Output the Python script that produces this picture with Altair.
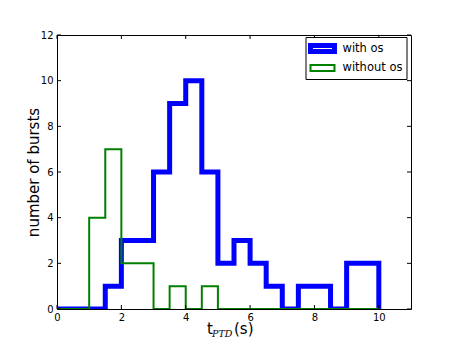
import altair as alt
import pandas as pd

# ---- data ----
bin_edges = [0.0, 0.5, 1.0, 1.5, 2.0, 2.5, 3.0, 3.5, 4.0, 4.5,
             5.0, 5.5, 6.0, 6.5, 7.0, 7.5, 8.0, 8.5, 9.0, 9.5, 10.0]
with_os = [0, 0, 0, 1, 3, 3, 6, 9, 10, 6, 2, 3, 2, 1, 0, 1, 1, 0, 2, 2]
without_os = [0, 0, 4, 7, 2, 2, 0, 1, 0, 1, 0, 0, 0, 0, 0, 0, 0, 0, 0, 0]
series_names = ["with os", "without os"]
series_colors = ["#0000ff", "#008000"]
series_widths = [5, 2]
x_ticks = [0, 2, 4, 6, 8, 10]
y_ticks = [0, 2, 4, 6, 8, 10, 12]

W, H = 354, 274

rows = []
for name, counts in zip(series_names, [with_os, without_os]):
    for i, c in enumerate(counts):
        rows.append({"series": name, "x": bin_edges[i], "y": c, "k": i})
    rows.append({"series": name, "x": bin_edges[-1], "y": 0, "k": len(counts)})
df = pd.DataFrame(rows)

xscale = alt.Scale(domain=[0, 11], nice=False, zero=False)
yscale = alt.Scale(domain=[0, 12], nice=False)

lines = alt.Chart(df).mark_line(
    interpolate="step-after", strokeJoin="miter", strokeCap="square", clip=True
).encode(
    x=alt.X("x:Q", scale=xscale,
            axis=alt.Axis(values=x_ticks, title=None, tickSize=0, labelPadding=3,
                          domain=False, grid=False, labelFontSize=10,
                          labelFlush=False, labelColor="black",
                          labelFont="DejaVu Sans")),
    y=alt.Y("y:Q", scale=yscale,
            axis=alt.Axis(values=y_ticks, title="number of bursts", tickSize=0,
                          labelPadding=4, domain=False, grid=False,
                          labelFlush=False, labelFontSize=10, labelColor="black",
                          labelFont="DejaVu Sans", titleFont="DejaVu Sans",
                          titleFontSize=15, titleFontWeight="normal",
                          titleColor="black", titlePadding=-1)),
    color=alt.Color("series:N",
                    scale=alt.Scale(domain=series_names, range=series_colors),
                    legend=alt.Legend(
                        title=None,
                        symbolStrokeWidth=alt.ExprRef(
                            f"datum.value == '{series_names[0]}' ? {series_widths[0] - 0.5} : {series_widths[1] - 0.5}"))),
    strokeWidth=alt.StrokeWidth("series:N",
                                scale=alt.Scale(domain=series_names, range=series_widths),
                                legend=None),
    order="k:Q",
)

xt = pd.DataFrame({"t": x_ticks})
yt = pd.DataFrame({"t": y_ticks})
tick_style = dict(color="black", strokeWidth=1)
xb = alt.Chart(xt).mark_rule(**tick_style).encode(
    x=alt.X("t:Q", scale=xscale), y=alt.value(H), y2=alt.value(H - 4))
xtp = alt.Chart(xt).mark_rule(**tick_style).encode(
    x=alt.X("t:Q", scale=xscale), y=alt.value(0), y2=alt.value(4))
yl = alt.Chart(yt).mark_rule(**tick_style).encode(
    y=alt.Y("t:Q", scale=yscale), x=alt.value(0), x2=alt.value(4))
yr = alt.Chart(yt).mark_rule(**tick_style).encode(
    y=alt.Y("t:Q", scale=yscale), x=alt.value(W), x2=alt.value(W - 4))

title_df = pd.DataFrame({"a": [0]})
t_main = alt.Chart(title_df).mark_text(
    text="t", font="DejaVu Sans", fontSize=15, align="left", baseline="alphabetic",
    color="black").encode(x=alt.value(150), y=alt.value(H + 25))
t_sub = alt.Chart(title_df).mark_text(
    text="PTD", font="DejaVu Serif", fontSize=9.5, fontStyle="italic", align="left",
    baseline="alphabetic", color="black").encode(x=alt.value(155), y=alt.value(H + 28))
t_unit = alt.Chart(title_df).mark_text(
    text="(s)", font="DejaVu Sans", fontSize=15, align="left", baseline="alphabetic",
    color="black").encode(x=alt.value(177), y=alt.value(H + 25))

chart = alt.layer(lines, xb, xtp, yl, yr, t_main, t_sub, t_unit).properties(
    width=W, height=H,
    autosize=alt.AutoSizeParams(type="none"),
    padding={"left": 49, "top": 27, "right": 30, "bottom": 30},
).configure_view(
    stroke="black", strokeWidth=1
).configure_legend(
    orient="none", legendX=248.5, legendY=2, fillColor="white", strokeColor="black",
    padding=4, symbolType="M-1.3,-0.6H3.5V0.6H-1.3Z", symbolSize=100,
    symbolFillColor="white", labelOffset=18, labelFontSize=11.5,
    labelFont="DejaVu Sans", labelColor="black", rowPadding=-7, cornerRadius=0,
)

chart.save("out.html", embed_options={"renderer": "svg", "actions": False})
